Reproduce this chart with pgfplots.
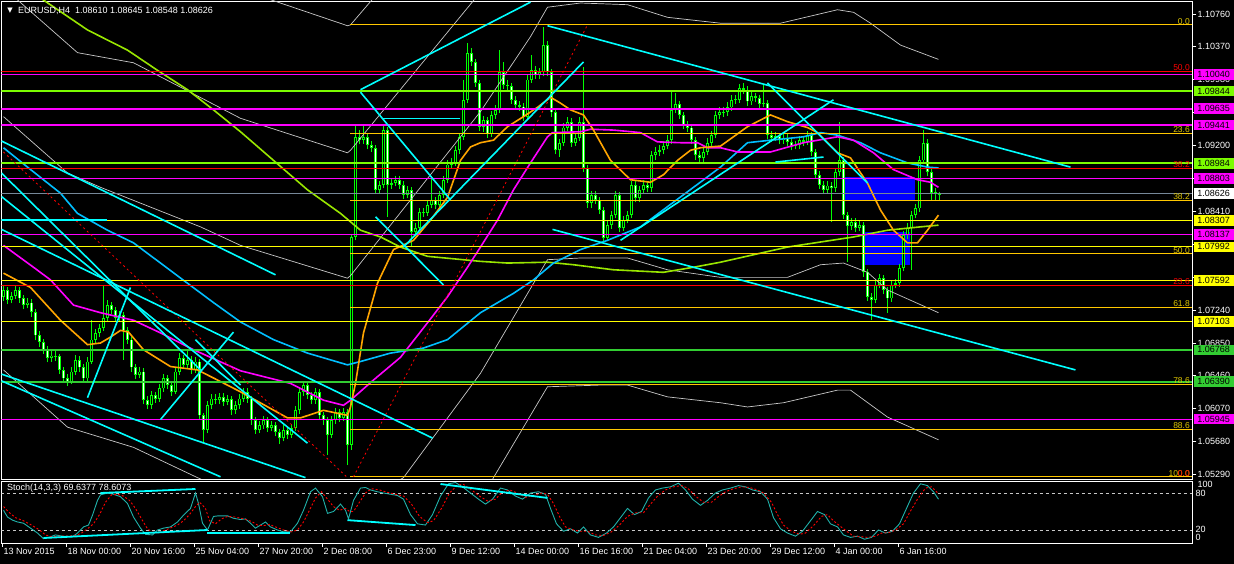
\documentclass[border=0pt]{standalone}
\usepackage{pgfplots}
\usepackage{pgfplotstable}
\pgfplotsset{compat=1.18}
\usepackage{fontspec}
\setmainfont{Liberation Sans}
\newfontfamily\dejavu{DejaVu Sans}
\newcommand\tf{\fontsize{9}{10}\selectfont}
\newcommand\ff{\fontsize{8.5}{9}\selectfont}
\definecolor{cndl}{RGB}{0,255,0}
\definecolor{lawn}{RGB}{124,252,0}
\definecolor{limeg}{RGB}{50,205,50}
\definecolor{mag}{RGB}{255,0,255}
\definecolor{fib}{RGB}{255,200,0}
\definecolor{fibt}{RGB}{225,200,0}
\definecolor{yel}{RGB}{255,255,0}
\definecolor{orng}{RGB}{255,165,0}
\definecolor{dsky}{RGB}{0,191,255}
\definecolor{ygreen}{RGB}{153,230,0}
\definecolor{slate}{RGB}{119,136,153}
\definecolor{band}{RGB}{200,200,200}
\definecolor{stochg}{RGB}{32,178,170}
\definecolor{cyn}{RGB}{0,255,255}
\definecolor{rblue}{RGB}{0,0,255}

\pgfplotstableread{
i o h l c
0 1.0740 1.0753 1.0735 1.0748
1 1.0748 1.0752 1.0731 1.0736
2 1.0736 1.0746 1.0732 1.0741
3 1.0741 1.0754 1.0737 1.0748
4 1.0748 1.0751 1.0733 1.0738
5 1.0738 1.0742 1.0725 1.0730
6 1.0730 1.0738 1.0726 1.0733
7 1.0733 1.0737 1.0716 1.0722
8 1.0722 1.0725 1.0688 1.0694
9 1.0694 1.0699 1.0680 1.0686
10 1.0686 1.0690 1.0672 1.0677
11 1.0677 1.0681 1.0662 1.0667
12 1.0667 1.0675 1.0663 1.0670
13 1.0670 1.0678 1.0664 1.0669
14 1.0669 1.0672 1.0648 1.0653
15 1.0653 1.0657 1.0638 1.0643
16 1.0643 1.0648 1.0634 1.0639
17 1.0639 1.0656 1.0636 1.0651
18 1.0651 1.0671 1.0647 1.0665
19 1.0665 1.0669 1.0651 1.0656
20 1.0656 1.0660 1.0638 1.0643
21 1.0643 1.0668 1.0640 1.0663
22 1.0663 1.0712 1.0660 1.0689
23 1.0689 1.0702 1.0684 1.0697
24 1.0697 1.0708 1.0692 1.0703
25 1.0703 1.0754 1.0699 1.0715
26 1.0715 1.0736 1.0711 1.0730
27 1.0730 1.0734 1.0719 1.0724
28 1.0724 1.0728 1.0710 1.0715
29 1.0715 1.0723 1.0711 1.0718
30 1.0718 1.0722 1.0665 1.0700
31 1.0700 1.0704 1.0684 1.0689
32 1.0689 1.0692 1.0650 1.0656
33 1.0656 1.0660 1.0642 1.0647
34 1.0647 1.0656 1.0643 1.0651
35 1.0651 1.0655 1.0612 1.0617
36 1.0617 1.0622 1.0606 1.0611
37 1.0611 1.0628 1.0607 1.0623
38 1.0623 1.0627 1.0614 1.0619
39 1.0619 1.0636 1.0615 1.0631
40 1.0631 1.0648 1.0627 1.0643
41 1.0643 1.0647 1.0630 1.0635
42 1.0635 1.0639 1.0622 1.0627
43 1.0627 1.0656 1.0624 1.0651
44 1.0651 1.0673 1.0647 1.0667
45 1.0667 1.0671 1.0654 1.0659
46 1.0659 1.0676 1.0655 1.0665
47 1.0665 1.0669 1.0648 1.0653
48 1.0653 1.0668 1.0649 1.0663
49 1.0663 1.0666 1.0594 1.0599
50 1.0599 1.0602 1.0567 1.0582
51 1.0582 1.0616 1.0578 1.0611
52 1.0611 1.0624 1.0606 1.0619
53 1.0619 1.0624 1.0612 1.0617
54 1.0617 1.0626 1.0613 1.0621
55 1.0621 1.0625 1.0610 1.0615
56 1.0615 1.0623 1.0611 1.0618
57 1.0618 1.0622 1.0600 1.0605
58 1.0605 1.0616 1.0601 1.0611
59 1.0611 1.0624 1.0607 1.0619
60 1.0619 1.0632 1.0615 1.0627
61 1.0627 1.0631 1.0614 1.0619
62 1.0619 1.0622 1.0588 1.0593
63 1.0593 1.0597 1.0577 1.0582
64 1.0582 1.0592 1.0578 1.0587
65 1.0587 1.0598 1.0583 1.0593
66 1.0593 1.0597 1.0579 1.0584
67 1.0584 1.0592 1.0580 1.0587
68 1.0587 1.0591 1.0574 1.0579
69 1.0579 1.0583 1.0565 1.0572
70 1.0572 1.0587 1.0568 1.0582
71 1.0582 1.0586 1.0571 1.0576
72 1.0576 1.0589 1.0572 1.0584
73 1.0584 1.0610 1.0580 1.0605
74 1.0605 1.0632 1.0601 1.0627
75 1.0627 1.0640 1.0622 1.0635
76 1.0635 1.0639 1.0618 1.0623
77 1.0623 1.0627 1.0612 1.0617
78 1.0617 1.0632 1.0613 1.0627
79 1.0627 1.0630 1.0594 1.0599
80 1.0599 1.0603 1.0588 1.0593
81 1.0593 1.0597 1.0552 1.0576
82 1.0576 1.0598 1.0572 1.0593
83 1.0593 1.0608 1.0589 1.0603
84 1.0603 1.0607 1.0591 1.0596
85 1.0596 1.0608 1.0592 1.0603
86 1.0603 1.0606 1.0540 1.0564
87 1.0564 1.0813 1.0558 1.0811
88 1.0811 1.0944 1.0807 1.0930
89 1.0930 1.0938 1.0921 1.0926
90 1.0926 1.0944 1.0922 1.0930
91 1.0930 1.0934 1.0915 1.0920
92 1.0920 1.0925 1.0912 1.0917
93 1.0917 1.0920 1.0862 1.0867
94 1.0867 1.0878 1.0862 1.0873
95 1.0873 1.0943 1.0869 1.0938
96 1.0938 1.0942 1.0835 1.0873
97 1.0873 1.0880 1.0868 1.0875
98 1.0875 1.0884 1.0871 1.0879
99 1.0879 1.0883 1.0868 1.0873
100 1.0873 1.0877 1.0856 1.0861
101 1.0861 1.0872 1.0857 1.0867
102 1.0867 1.0870 1.0799 1.0817
103 1.0817 1.0827 1.0812 1.0822
104 1.0822 1.0846 1.0818 1.0841
105 1.0841 1.0846 1.0835 1.0840
106 1.0840 1.0854 1.0836 1.0849
107 1.0849 1.0882 1.0845 1.0855
108 1.0855 1.0859 1.0844 1.0849
109 1.0849 1.0866 1.0845 1.0861
110 1.0861 1.0884 1.0857 1.0879
111 1.0879 1.0902 1.0875 1.0897
112 1.0897 1.0905 1.0892 1.0899
113 1.0899 1.0919 1.0895 1.0914
114 1.0914 1.0935 1.0910 1.0930
115 1.0930 1.0998 1.0926 1.0974
116 1.0974 1.1042 1.0970 1.1030
117 1.1030 1.1035 1.1014 1.1019
118 1.1019 1.1023 1.0989 1.0994
119 1.0994 1.0998 1.0937 1.0942
120 1.0942 1.0955 1.0936 1.0950
121 1.0950 1.0954 1.0929 1.0934
122 1.0934 1.0961 1.0930 1.0956
123 1.0956 1.0968 1.0951 1.0962
124 1.0962 1.1033 1.0958 1.1007
125 1.1007 1.1019 1.0987 1.0992
126 1.0992 1.0997 1.0985 1.0990
127 1.0990 1.0994 1.0969 1.0974
128 1.0974 1.0978 1.0963 1.0968
129 1.0968 1.0972 1.0961 1.0966
130 1.0966 1.0970 1.0949 1.0954
131 1.0954 1.1003 1.0950 1.0998
132 1.0998 1.1027 1.0994 1.1009
133 1.1009 1.1014 1.0999 1.1004
134 1.1004 1.1012 1.0999 1.1007
135 1.1007 1.1061 1.1002 1.1039
136 1.1039 1.1044 1.1002 1.1007
137 1.1007 1.1011 1.0954 1.0959
138 1.0959 1.0963 1.0909 1.0914
139 1.0914 1.0928 1.0906 1.0923
140 1.0923 1.0946 1.0919 1.0941
141 1.0941 1.0953 1.0937 1.0948
142 1.0948 1.0952 1.0918 1.0923
143 1.0923 1.0934 1.0919 1.0929
144 1.0929 1.0953 1.0925 1.0948
145 1.0948 1.1013 1.0888 1.0893
146 1.0893 1.0897 1.0846 1.0851
147 1.0851 1.0866 1.0845 1.0861
148 1.0861 1.0866 1.0850 1.0855
149 1.0855 1.0859 1.0838 1.0843
150 1.0843 1.0847 1.0805 1.0810
151 1.0810 1.0830 1.0806 1.0825
152 1.0825 1.0842 1.0821 1.0837
153 1.0837 1.0866 1.0833 1.0861
154 1.0861 1.0865 1.0817 1.0822
155 1.0822 1.0836 1.0818 1.0831
156 1.0831 1.0842 1.0827 1.0837
157 1.0837 1.0878 1.0833 1.0873
158 1.0873 1.0877 1.0852 1.0857
159 1.0857 1.0872 1.0853 1.0867
160 1.0867 1.0879 1.0863 1.0873
161 1.0873 1.0877 1.0864 1.0869
162 1.0869 1.0913 1.0865 1.0908
163 1.0908 1.0918 1.0903 1.0912
164 1.0912 1.0920 1.0907 1.0914
165 1.0914 1.0925 1.0909 1.0919
166 1.0919 1.0932 1.0915 1.0926
167 1.0926 1.0986 1.0922 1.0962
168 1.0962 1.0982 1.0958 1.0969
169 1.0969 1.0973 1.0951 1.0956
170 1.0956 1.0960 1.0939 1.0944
171 1.0944 1.0949 1.0936 1.0941
172 1.0941 1.0945 1.0921 1.0926
173 1.0926 1.0930 1.0903 1.0908
174 1.0908 1.0913 1.0898 1.0905
175 1.0905 1.0917 1.0900 1.0912
176 1.0912 1.0928 1.0908 1.0923
177 1.0923 1.0937 1.0919 1.0932
178 1.0932 1.0961 1.0928 1.0956
179 1.0956 1.0965 1.0951 1.0959
180 1.0959 1.0966 1.0954 1.0960
181 1.0960 1.0971 1.0955 1.0965
182 1.0965 1.0980 1.0961 1.0974
183 1.0974 1.0980 1.0969 1.0974
184 1.0974 1.0993 1.0970 1.0988
185 1.0988 1.0994 1.0981 1.0986
186 1.0986 1.0990 1.0967 1.0972
187 1.0972 1.0983 1.0968 1.0978
188 1.0978 1.0982 1.0971 1.0976
189 1.0976 1.0980 1.0964 1.0969
190 1.0969 1.0992 1.0965 1.0970
191 1.0970 1.0974 1.0927 1.0932
192 1.0932 1.0937 1.0924 1.0929
193 1.0929 1.0936 1.0925 1.0931
194 1.0931 1.0935 1.0921 1.0926
195 1.0926 1.0934 1.0922 1.0929
196 1.0929 1.0933 1.0919 1.0924
197 1.0924 1.0928 1.0914 1.0919
198 1.0919 1.0925 1.0915 1.0920
199 1.0920 1.0931 1.0916 1.0926
200 1.0926 1.0930 1.0919 1.0924
201 1.0924 1.0937 1.0920 1.0932
202 1.0932 1.0936 1.0907 1.0912
203 1.0912 1.0916 1.0880 1.0885
204 1.0885 1.0889 1.0868 1.0873
205 1.0873 1.0877 1.0862 1.0867
206 1.0867 1.0877 1.0862 1.0872
207 1.0872 1.0876 1.0829 1.0869
208 1.0869 1.0893 1.0865 1.0888
209 1.0888 1.0948 1.0884 1.0902
210 1.0902 1.0906 1.0832 1.0837
211 1.0837 1.0841 1.0781 1.0824
212 1.0824 1.0834 1.0819 1.0829
213 1.0829 1.0833 1.0817 1.0822
214 1.0822 1.0830 1.0818 1.0825
215 1.0825 1.0829 1.0764 1.0769
216 1.0769 1.0773 1.0735 1.0740
217 1.0740 1.0745 1.0712 1.0736
218 1.0736 1.0759 1.0732 1.0754
219 1.0754 1.0767 1.0750 1.0762
220 1.0762 1.0766 1.0743 1.0748
221 1.0748 1.0752 1.0721 1.0738
222 1.0738 1.0759 1.0734 1.0754
223 1.0754 1.0761 1.0750 1.0756
224 1.0756 1.0779 1.0752 1.0774
225 1.0774 1.0818 1.0770 1.0813
226 1.0813 1.0827 1.0808 1.0822
227 1.0822 1.0842 1.0772 1.0837
228 1.0837 1.0850 1.0833 1.0845
229 1.0845 1.0907 1.0841 1.0902
230 1.0902 1.0938 1.0898 1.0923
231 1.0923 1.0927 1.0883 1.0888
232 1.0888 1.0892 1.0855 1.0863
233 1.0863 1.0869 1.0855 1.0865
234 1.08610 1.08645 1.08548 1.08626
}\candles

\pgfplotsset{
  tl/.style={cyn, line width=1.6pt},
}

\begin{document}
\begin{tikzpicture}
\path[use as bounding box, fill=black] (0pt,0pt) rectangle (1234pt,564pt);

\begin{axis}[
  at={(1.5pt,85pt)}, anchor=south west,
  scale only axis, width=1191pt, height=478pt,
  xmin=-0.5, xmax=297.25, ymin=1.05234, ymax=1.10914,
  axis line style={white, line width=0.8pt},
  xtick=\empty,
  ytick={1.0529,1.0568,1.0607,1.0646,1.0685,1.0724,1.0763,1.0802,1.0841,1.0880,1.0920,1.0959,1.0998,1.1037,1.1076},
  yticklabels={1.05290,1.05680,1.06070,1.06460,1.06850,1.07240,{},{},1.08410,{},1.09200,{},1.09980,1.10370,1.10760},
  ytick pos=right, yticklabel pos=right,
  tick align=outside, major tick length=4pt,
  y tick style={white, line width=0.8pt},
  yticklabel style={text=white, font=\tf, inner sep=1pt},
  clip mode=individual,
  after end axis/.code={
    \node[anchor=south east, inner sep=0.5pt, font=\ff, text=fibt] at (axis cs:296.75,1.1063) {0.0};
    \node[anchor=south east, inner sep=0.5pt, font=\ff, text=red] at (axis cs:296.75,1.1008) {50.0};
    \node[anchor=south east, inner sep=0.5pt, font=\ff, text=fibt] at (axis cs:296.75,1.0934) {23.6};
    \node[anchor=south east, inner sep=0.5pt, font=\ff, text=red] at (axis cs:296.75,1.0893) {38.2};
    \node[anchor=south east, inner sep=0.5pt, font=\ff, text=fibt] at (axis cs:296.75,1.0855) {38.2};
    \node[anchor=south east, inner sep=0.5pt, font=\ff, text=fibt] at (axis cs:296.75,1.0791) {50.0};
    \node[anchor=south east, inner sep=0.5pt, font=\ff, text=red] at (axis cs:296.75,1.0753) {23.6};
    \node[anchor=south east, inner sep=0.5pt, font=\ff, text=fibt] at (axis cs:296.75,1.0727) {61.8};
    \node[anchor=south east, inner sep=0.5pt, font=\ff, text=fibt] at (axis cs:296.75,1.0636) {78.6};
    \node[anchor=south east, inner sep=0.5pt, font=\ff, text=fibt] at (axis cs:296.75,1.0582) {88.6};
    \node[anchor=south east, inner sep=0.5pt, font=\ff, text=fibt] at (axis cs:296.75,1.0526) {100.0};
    \node[anchor=south east, inner sep=0.5pt, font=\ff, text=red] at (axis cs:296.75,1.0526) {0.0};
    \foreach \p/\c in {1.10040/mag,1.09844/lawn,1.09635/mag,1.09441/mag,1.08984/lawn,1.08803/mag,1.08626/white,1.08307/yel,1.08137/mag,1.07992/yel,1.07592/yel,1.07103/yel,1.06768/limeg,1.06390/limeg,1.05945/mag}{
      \node[anchor=west, fill=\c, text=black, font=\tf, inner sep=0pt, minimum width=40pt, minimum height=10.5pt, xshift=1pt] at (axis cs:297.25,\p) {\p};
    }
  },
]
\addplot[draw=none, fill=rblue] coordinates {(210,1.0882) (228,1.0882) (228,1.0855) (210,1.0855)} -- cycle;
\addplot[draw=none, fill=rblue] coordinates {(215,1.0817) (226.75,1.0817) (226.75,1.0778) (215,1.0778)} -- cycle;

% wicks
\addplot[draw=none, mark=none, error bars/.cd, y dir=plus, y explicit, error mark=none,
  error bar style={draw=cndl, line width=1pt}]
  table[x=i, y=l, y error plus expr={\thisrow{h}-\thisrow{l}}] {\candles};
% bodies
\addplot[draw=none, mark=none, error bars/.cd, y dir=plus, y explicit, error mark=none,
  error bar style={draw=cndl, line width=3pt}]
  table[x=i, y expr={min(\thisrow{o},\thisrow{c})}, y error plus expr={max(abs(\thisrow{c}-\thisrow{o}),0.00005)}] {\candles};
% bear interior (white)
\addplot[draw=none, mark=none, error bars/.cd, y dir=plus, y explicit, error mark=none,
  error bar style={draw=white, line width=1pt}]
  table[x=i, y expr={min(\thisrow{o},\thisrow{c})+0.0001}, y error plus expr={max(\thisrow{o}-\thisrow{c}-0.0002,0)}] {\candles};
% bull interior (black)
\addplot[draw=none, mark=none, error bars/.cd, y dir=plus, y explicit, error mark=none,
  error bar style={draw=black, line width=1pt}]
  table[x=i, y expr={min(\thisrow{o},\thisrow{c})+0.0001}, y error plus expr={max(\thisrow{c}-\thisrow{o}-0.0002,0)}] {\candles};

% envelope / band lines
\addplot[band, line width=0.7pt] coordinates {(0,1.0954) (16,1.0887) (24.25,1.0870) (49.25,1.0823) (59.25,1.0801) (86,1.0762) (86.75,1.0765) (119.25,1.0960) (131.75,1.1049) (136,1.1084) (144.25,1.1089) (156,1.1087) (166,1.1072) (179.25,1.1065) (194.25,1.1065) (208.5,1.1081) (212.5,1.1078) (216.75,1.1065) (224.25,1.1039) (233.75,1.1022)};
\addplot[band, line width=0.7pt] coordinates {(1.75,1.1100) (18.5,1.1030) (32.5,1.1018) (59.25,1.0952) (86,1.0911) (86.75,1.0914) (119.25,1.1102)};
\addplot[band, line width=0.7pt] coordinates {(63,1.1099) (86,1.1062) (86.75,1.1063) (93.25,1.1099)};
\addplot[band, line width=0.7pt] coordinates {(0,1.0653) (16,1.0585) (32.5,1.0561) (48.5,1.0525) (64.25,1.0492) (86,1.0484) (86.75,1.0487) (100,1.0525) (119.25,1.0649) (136,1.0784) (144.25,1.0786) (156,1.0786) (166,1.0772) (179.25,1.0763) (196,1.0763) (204.25,1.0778) (210,1.0780) (216,1.0769) (221,1.0748) (233.75,1.0721)};
\addplot[band, line width=0.7pt] coordinates {(119.25,1.0498) (122.5,1.0525) (136,1.0633) (149.25,1.0635) (156,1.0635) (166,1.0621) (179.25,1.0614) (186,1.0609) (195,1.0614) (208.5,1.0629) (211.75,1.0629) (221,1.0597) (233.75,1.0570)};

% moving averages
\addplot[ygreen, line width=1.6pt] coordinates {(5.5,1.1107) (21,1.1057) (31,1.1033) (38.5,1.1009) (46,1.0986) (52.5,1.0962) (59.25,1.0936) (67.5,1.0902) (76,1.0867) (84.25,1.0839) (89.25,1.0819) (94.25,1.0811) (99.25,1.0799) (106,1.0788) (119.25,1.0782) (126,1.0780) (136,1.0781) (142.5,1.0778) (152.5,1.0772) (165,1.0769) (172.5,1.0775) (179.25,1.0781) (196,1.0799) (212.5,1.0811) (221,1.0819) (229.25,1.0823) (233.75,1.0825)};
\addplot[dsky, line width=1.6pt] coordinates {(0,1.0917) (6,1.0894) (14.25,1.0863) (18.5,1.0839) (26,1.0819) (32.5,1.0804) (39.25,1.0780) (46,1.0756) (52.5,1.0733) (59.25,1.0710) (67.5,1.0689) (76,1.0673) (86,1.0659) (89.25,1.0663) (96.75,1.0673) (105,1.0679) (111,1.0689) (119.25,1.0721) (127.5,1.0744) (132.5,1.0760) (137.5,1.0780) (144.25,1.0796) (151,1.0807) (159.25,1.0823) (166,1.0847) (172.5,1.0870) (179.25,1.0894) (186,1.0923) (191.75,1.0926) (200,1.0930) (204.25,1.0935) (208.5,1.0932) (214.25,1.0923) (219.25,1.0911) (226,1.0899) (231,1.0894) (233.75,1.0893)};
\addplot[mag, line width=1.6pt] coordinates {(0,1.0801) (7.5,1.0775) (11.75,1.0760) (17.5,1.0730) (24.25,1.0721) (32.5,1.0712) (39.25,1.0697) (47.5,1.0677) (59.25,1.0652) (71.75,1.0637) (80,1.0617) (85,1.0611) (86.75,1.0617) (92.5,1.0641) (99.25,1.0668) (106,1.0709) (111,1.0740) (116,1.0775) (119.25,1.0799) (123.5,1.0831) (127.5,1.0867) (131.75,1.0899) (136,1.0930) (137.25,1.0935) (144.25,1.0936) (146.75,1.0939) (152.5,1.0938) (159.25,1.0935) (163.5,1.0924) (169.25,1.0923) (173.5,1.0923) (176,1.0917) (179.25,1.0917) (183.5,1.0912) (191.75,1.0912) (200,1.0923) (208.5,1.0930) (212.5,1.0926) (217.5,1.0911) (222.5,1.0891) (228.5,1.0879) (231.75,1.0876) (233.75,1.0870)};
\addplot[orng, line width=1.6pt] coordinates {(0,1.0768) (6.75,1.0751) (14.25,1.0712) (21,1.0683) (24.25,1.0685) (26.75,1.0692) (29.25,1.0700) (31.25,1.0698) (35,1.0677) (41.75,1.0657) (48.5,1.0653) (53.5,1.0641) (59.25,1.0627) (71,1.0596) (74.25,1.0596) (80,1.0605) (86,1.0599) (86.75,1.0609) (88,1.0637) (90,1.0697) (93.5,1.0756) (97.5,1.0796) (102.5,1.0807) (106.75,1.0831) (111,1.0858) (114.25,1.0902) (116.75,1.0918) (119.25,1.0923) (122.5,1.0926) (126,1.0942) (130,1.0954) (133.5,1.0965) (136.75,1.0977) (139.25,1.0970) (141.75,1.0962) (145,1.0956) (147.5,1.0938) (151.75,1.0902) (156.75,1.0879) (161.75,1.0876) (165,1.0885) (168.5,1.0902) (171.75,1.0914) (174.25,1.0917) (179.25,1.0919) (186,1.0942) (191.75,1.0956) (196,1.0948) (201,1.0941) (203.5,1.0935) (208.5,1.0911) (211.75,1.0905) (216,1.0875) (219.25,1.0843) (222.5,1.0819) (226,1.0804) (228.5,1.0804) (231,1.0819) (233.75,1.0837)};

% horizontal level lines
\addplot[red, line width=0.8pt] coordinates {(-0.5,1.1008) (297.25,1.1008)};
\addplot[mag, line width=0.8pt] coordinates {(-0.5,1.10040) (297.25,1.10040)};
\addplot[lawn, line width=2pt] coordinates {(-0.5,1.09844) (297.25,1.09844)};
\addplot[mag, line width=2pt] coordinates {(-0.5,1.09635) (297.25,1.09635)};
\addplot[mag, line width=2pt] coordinates {(-0.5,1.09441) (297.25,1.09441)};
\addplot[lawn, line width=2pt] coordinates {(-0.5,1.08984) (297.25,1.08984)};
\addplot[red, line width=0.8pt] coordinates {(-0.5,1.0893) (297.25,1.0893)};
\addplot[mag, line width=0.8pt] coordinates {(-0.5,1.08803) (297.25,1.08803)};
\addplot[slate, line width=0.8pt] coordinates {(-0.5,1.08626) (297.25,1.08626)};
\addplot[yel, line width=0.8pt] coordinates {(-0.5,1.08307) (297.25,1.08307)};
\addplot[mag, line width=0.8pt] coordinates {(-0.5,1.08137) (297.25,1.08137)};
\addplot[yel, line width=0.8pt] coordinates {(-0.5,1.07992) (297.25,1.07992)};
\addplot[yel, line width=0.8pt] coordinates {(-0.5,1.07592) (297.25,1.07592)};
\addplot[red, line width=0.8pt] coordinates {(-0.5,1.0753) (297.25,1.0753)};
\addplot[yel, line width=0.8pt] coordinates {(-0.5,1.07103) (297.25,1.07103)};
\addplot[limeg, line width=2pt] coordinates {(-0.5,1.06768) (297.25,1.06768)};
\addplot[limeg, line width=2pt] coordinates {(-0.5,1.06390) (297.25,1.06390)};
\addplot[mag, line width=0.8pt] coordinates {(-0.5,1.05945) (297.25,1.05945)};
% fibo lines
\addplot[fib, line width=0.8pt] coordinates {(86.75,1.1063) (297.25,1.1063)};
\addplot[fib, line width=0.8pt] coordinates {(86.75,1.0934) (297.25,1.0934)};
\addplot[fib, line width=0.8pt] coordinates {(86.75,1.0855) (297.25,1.0855)};
\addplot[fib, line width=0.8pt] coordinates {(86.75,1.0791) (297.25,1.0791)};
\addplot[fib, line width=0.8pt] coordinates {(86.75,1.0727) (297.25,1.0727)};
\addplot[fib, line width=0.8pt] coordinates {(86.75,1.0636) (297.25,1.0636)};
\addplot[fib, line width=0.8pt] coordinates {(86.75,1.0582) (297.25,1.0582)};
\addplot[fib, line width=0.8pt] coordinates {(86.75,1.0526) (297.25,1.0526)};

% red dotted lines
\addplot[red, line width=0.8pt, dash pattern=on 2pt off 3pt] coordinates {(0,1.0912) (86,1.0525)};
\addplot[red, line width=0.8pt, dash pattern=on 2pt off 3pt] coordinates {(87.5,1.0526) (146,1.1063)};

% trend lines
\addplot[tl] coordinates {(89.25,1.0986) (131.75,1.1090)};
\addplot[tl] coordinates {(89.25,1.0983) (111.75,1.0855)};
\addplot[tl] coordinates {(93,1.0835) (110,1.0754)};
\addplot[tl] coordinates {(100,1.0799) (145,1.1019)};
\addplot[tl] coordinates {(95,1.0952) (114.25,1.0952)};
\addplot[tl] coordinates {(136,1.1062) (266.75,1.0894)};
\addplot[tl] coordinates {(191,1.0994) (216,1.0875)};
\addplot[tl] coordinates {(154.25,1.0807) (207.5,1.0974)};
\addplot[tl] coordinates {(193,1.0900) (205,1.0906)};
\addplot[tl] coordinates {(137.25,1.0820) (268,1.0653)};
\addplot[tl] coordinates {(-0.5,1.0925) (68,1.0766)};
\addplot[tl] coordinates {(-0.5,1.0887) (49.25,1.0653)};
\addplot[tl] coordinates {(-0.5,1.0859) (76,1.0566)};
\addplot[tl] coordinates {(-0.5,1.0820) (107.25,1.0572)};
\addplot[tl] coordinates {(-0.5,1.0648) (75.5,1.0525)};
\addplot[tl] coordinates {(-0.5,1.0640) (54.25,1.0526)};
\addplot[tl] coordinates {(21,1.0620) (31.75,1.0751)};
\addplot[tl] coordinates {(39.25,1.0594) (57.5,1.0698)};
\addplot[tl] coordinates {(48,1.0689) (59.25,1.0635)};
\addplot[tl] coordinates {(-0.5,1.0831) (26,1.0831)};
\end{axis}

% stochastic panel
\begin{axis}[
  at={(1.5pt,21pt)}, anchor=south west,
  scale only axis, width=1191pt, height=62pt,
  xmin=-0.5, xmax=297.25, ymin=-1.1, ymax=99.5,
  axis line style={white, line width=0.8pt},
  ytick=\empty,
  xtick={-0.25,15.75,31.75,47.75,63.75,79.75,95.75,111.75,127.75,143.75,159.75,175.75,191.75,207.75,223.75},
  xticklabels={13 Nov 2015,18 Nov 00:00,20 Nov 16:00,25 Nov 04:00,27 Nov 20:00,2 Dec 08:00,6 Dec 23:00,9 Dec 12:00,14 Dec 00:00,16 Dec 16:00,21 Dec 04:00,23 Dec 20:00,29 Dec 12:00,4 Jan 00:00,6 Jan 16:00},
  xtick pos=left, tick align=outside, major tick length=4pt,
  x tick style={white, line width=0.8pt},
  xticklabel style={text=white, font=\tf, anchor=north west, inner sep=0pt, xshift=1pt, yshift=-1pt},
  clip mode=individual,
  after end axis/.code={
    \node[anchor=west, text=white, font=\tf, inner sep=0pt, xshift=5pt] at (axis cs:297.25,94) {100};
    \node[anchor=west, text=white, font=\tf, inner sep=0pt, xshift=3pt] at (axis cs:297.25,79) {80};
    \node[anchor=west, text=white, font=\tf, inner sep=0pt, xshift=3pt] at (axis cs:297.25,20.5) {20};
    \node[anchor=west, text=white, font=\tf, inner sep=0pt, xshift=3pt] at (axis cs:297.25,7.5) {0};
  },
]
\addplot[band, line width=0.7pt, dash pattern=on 3pt off 3pt] coordinates {(-0.5,80) (297.25,80)};
\addplot[band, line width=0.7pt, dash pattern=on 3pt off 3pt] coordinates {(-0.5,20) (297.25,20)};
\addplot[stochg, line width=0.9pt] coordinates {(0,52) (1,41) (2.25,36) (3.5,33) (5,31) (6.75,23) (8.5,15) (10,6) (11.75,9) (13,12) (14.75,10) (17.25,9) (18.5,15) (20,25) (21.25,28) (22.25,44) (23.5,68) (24.25,77) (26,80) (27.5,78) (29.25,74) (31,63) (32.5,41) (34.25,23) (35.5,13) (37.25,12) (38.5,20) (40,23) (41.75,25) (43.5,33) (45,44) (46.75,55) (48,80) (48.75,63) (49.75,31) (51,20) (52.5,42) (53.75,43) (56,43) (57.5,39) (59.25,37) (60.5,38) (61.75,31) (63,23) (64.25,28) (65.5,33) (66.75,25) (68.5,20) (70,17) (71.75,17) (73.5,31) (75,52) (76.75,82) (78,88) (78.75,82) (79.75,74) (81,47) (82.5,50) (84.25,62) (85.5,52) (86.25,38) (87.5,68) (89.25,88) (90.5,89) (91.75,85) (93.5,82) (95,80) (96.75,78) (98.5,76) (100,70) (101.75,45) (103.5,30) (105.5,28) (107.25,45) (109.25,75) (111.25,95) (113,97) (114.75,90) (116.75,80) (118.75,70) (120.5,62) (122.25,70) (124.25,88) (126,85) (128,75) (129.75,70) (131.75,80) (133.75,82) (135.5,78) (136.75,55) (138.25,30) (140,18) (141.75,22) (143.5,15) (145,25) (146.75,12) (148.75,8) (150.75,15) (152.5,25) (154.25,40) (156,55) (157.75,45) (159.5,50) (161.25,72) (163,85) (164.75,88) (166.75,90) (168.75,96) (170.5,85) (172.25,70) (174.25,60) (176,68) (178,80) (179.75,85) (181.75,88) (183.75,92) (185.5,90) (187.25,85) (189.25,82) (191,70) (192.5,40) (194.25,22) (196,15) (198,10) (199.75,18) (201.75,35) (203.5,50) (205.25,45) (206.75,30) (208.5,25) (210,12) (211.75,8) (213.5,10) (215.25,5) (217,8) (218.75,20) (220.5,15) (222.25,18) (224,30) (225.75,55) (227.5,80) (229.25,95) (231,92) (232.5,82) (233.75,70)};
\addplot[red, line width=0.9pt, dash pattern=on 2pt off 2pt] coordinates {(0,58) (1.5,48) (3,40) (5,35) (7,28) (9,20) (10.5,12) (12,9) (14,10) (16,10) (18,11) (19.5,15) (21,22) (22.5,30) (24,45) (25.5,65) (27,77) (28.5,78) (30,75) (31.5,68) (33,55) (34.5,38) (36,22) (37.5,15) (39,16) (40.5,20) (42,24) (43.5,28) (45,35) (46.5,45) (48,58) (49,65) (50.5,55) (51.5,35) (53,30) (54.5,38) (56,42) (58,41) (60,38) (62,34) (63.5,28) (65,27) (66.5,29) (68,25) (70,20) (72,17) (73.5,20) (75,33) (76.5,52) (78,72) (79.5,82) (81,70) (82.5,58) (84,52) (85.5,55) (86.5,50) (87.5,50) (89,65) (90.5,80) (92,87) (94,85) (96,81) (98,78) (100,75) (102,62) (104,42) (106,32) (107.5,35) (109.5,55) (111.5,80) (113.5,93) (115,94) (117,85) (119,75) (121,67) (123,70) (124.5,80) (126.5,85) (128.5,80) (130.5,73) (132.5,76) (134.5,80) (136,78) (137.5,63) (139,42) (140.5,25) (142.5,20) (144,18) (146,18) (148,12) (150,11) (152,17) (154,28) (156,42) (158,48) (160,48) (161.5,60) (163.5,75) (165.5,85) (167.5,90) (169.5,92) (171,88) (173,75) (175,65) (177,65) (178.5,73) (180.5,82) (182.5,87) (184.5,90) (186.5,89) (188.5,85) (190,80) (192,65) (193.5,45) (195,28) (197,18) (199,13) (200.5,15) (202.5,27) (204.5,42) (206,45) (207.5,35) (209,27) (211,17) (212.5,10) (214.5,9) (216,8) (218,10) (219.5,15) (221.5,16) (223,20) (225,30) (226.5,48) (228.5,70) (230.5,88) (232,90) (233.75,79)};
\addplot[cyn, line width=1.8pt] coordinates {(10,7) (51,20)};
\addplot[cyn, line width=1.8pt] coordinates {(51,15) (71.75,15)};
\addplot[cyn, line width=1.8pt] coordinates {(24.25,80) (48,86.5)};
\addplot[cyn, line width=1.8pt] coordinates {(86,36) (103,28)};
\addplot[cyn, line width=1.8pt] coordinates {(109.25,94.6) (136,72)};
\end{axis}

\node[text=white, font=\dejavu\fontsize{7}{8}\selectfont, inner sep=0pt] at (10pt,553pt) {▼};
\node[anchor=west, text=white, font=\tf, inner sep=0pt] at (18pt,553pt) {EURUSD,H4\ \ 1.08610 1.08645 1.08548 1.08626};
\node[anchor=west, text=white, font=\tf, inner sep=0pt] at (7pt,76pt) {Stoch(14,3,3) 69.6377 78.6073};
\end{tikzpicture}
\end{document}
